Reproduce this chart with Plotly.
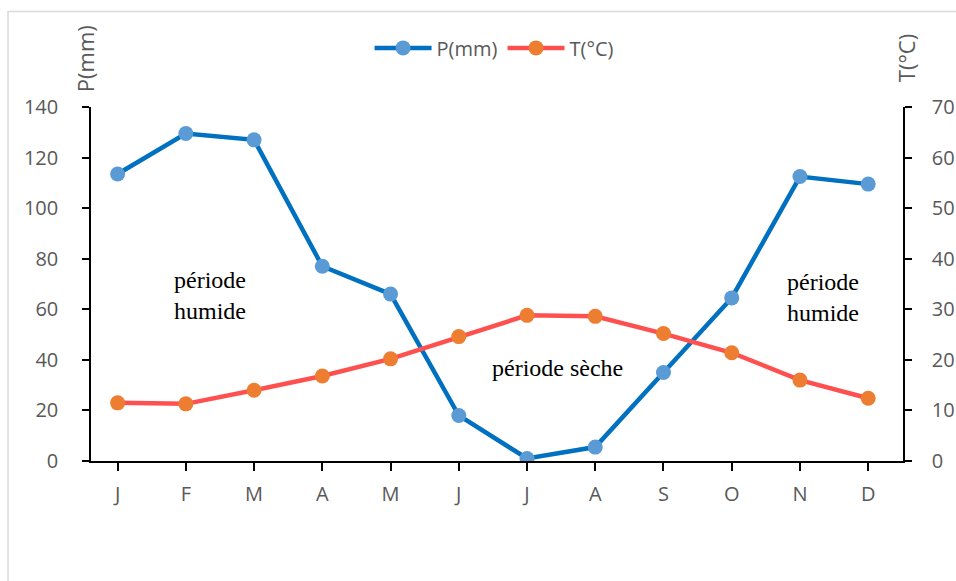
import plotly.graph_objects as go

months = ["J", "F", "M", "A", "M", "J", "J", "A", "S", "O", "N", "D"]
precip_mm = [113.5, 129.5, 127, 77, 66, 18, 1, 5.5, 35, 64.5, 112.5, 109.5]
temp_c = [11.5, 11.3, 14, 16.8, 20.2, 24.6, 28.8, 28.6, 25.2, 21.4, 16, 12.4]
p_ticks = [0, 20, 40, 60, 80, 100, 120, 140]
t_ticks = [0, 10, 20, 30, 40, 50, 60, 70]

x = list(range(len(months)))
GRAY = "#595959"
FONT = "Open Sans"

fig = go.Figure()
fig.add_trace(go.Scatter(
    x=x, y=precip_mm, name="P(mm)", mode="lines+markers",
    line=dict(color="#0070C0", width=4.5),
    marker=dict(color="#5B9BD5", size=15),
    yaxis="y",
))
fig.add_trace(go.Scatter(
    x=x, y=temp_c, name="T(°C)", mode="lines+markers",
    line=dict(color="#FF5050", width=4.5),
    marker=dict(color="#ED7D31", size=15),
    yaxis="y2",
))

fig.update_layout(
    width=956, height=581,
    margin=dict(l=91, r=53, t=107, b=120, autoexpand=False),
    paper_bgcolor="white", plot_bgcolor="white",
    font=dict(family=FONT, color=GRAY, size=20),
    showlegend=True,
    legend=dict(orientation="h", x=0.497, y=1.167, xanchor="center", yanchor="middle",
                font=dict(family=FONT, size=20, color=GRAY), itemwidth=57,
                bgcolor="rgba(0,0,0,0)"),
    xaxis=dict(
        range=[-0.39, 11.51], tickmode="array", tickvals=x, ticktext=months,
        showline=True, linecolor="black", linewidth=1.5,
        ticks="outside", ticklen=8, tickwidth=1.5, tickcolor="black",
        showgrid=False, zeroline=False, ticklabelstandoff=6,
        tickfont=dict(family=FONT, size=20, color=GRAY),
    ),
    yaxis=dict(
        range=[0, 140], tickmode="array", tickvals=p_ticks,
        showline=True, linecolor="black", linewidth=1.5,
        ticks="outside", ticklen=7, tickwidth=1.5, tickcolor="black",
        showgrid=False, zeroline=False, ticklabelstandoff=20,
        tickfont=dict(family=FONT, size=20, color=GRAY),
    ),
    yaxis2=dict(
        range=[0, 70], tickmode="array", tickvals=t_ticks,
        overlaying="y", side="right",
        showline=True, linecolor="black", linewidth=1.5,
        ticks="outside", ticklen=7, tickwidth=1.5, tickcolor="black",
        showgrid=False, zeroline=False, ticklabelstandoff=16,
        tickfont=dict(family=FONT, size=20, color=GRAY),
    ),
)

# outer frame (cropped on right and bottom)
fig.add_shape(type="rect", xref="paper", yref="paper",
              x0=-0.1022, x1=1.08, y0=-0.36, y1=1.2698,
              line=dict(color="#D9D9D9", width=1.5), fillcolor="rgba(0,0,0,0)", layer="below")

# axis titles
fig.add_annotation(text="P(mm)", xref="paper", yref="paper", x=-0.0074, y=1.138,
                   textangle=-90, showarrow=False, xanchor="center", yanchor="middle",
                   font=dict(family=FONT, size=22, color=GRAY))
fig.add_annotation(text="T(°C)", xref="paper", yref="paper", x=1.0037, y=1.138,
                   textangle=-90, showarrow=False, xanchor="center", yanchor="middle",
                   font=dict(family=FONT, size=22, color=GRAY))

SERIF = dict(family="Liberation Serif", size=24, color="black")
fig.add_annotation(text="période<br>humide", x=1.36, y=65.6, xref="x", yref="y",
                   showarrow=False, align="left", font=SERIF)
fig.add_annotation(text="période sèche", x=6.44, y=36.8, xref="x", yref="y",
                   showarrow=False, font=SERIF)
fig.add_annotation(text="période<br>humide", x=10.34, y=64.5, xref="x", yref="y",
                   showarrow=False, align="left", font=SERIF)

fig.write_html("out.html", config={"displayModeBar": False},
               post_script="document.body.style.margin='0';document.body.style.padding='0';document.documentElement.style.margin='0';")
